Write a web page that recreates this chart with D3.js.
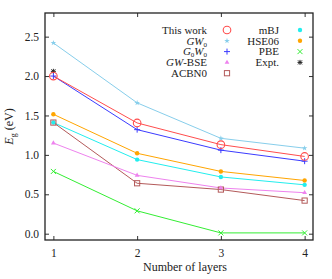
<!DOCTYPE html>
<html>
<head>
<meta charset="utf-8">
<script src="https://cdn.jsdelivr.net/npm/d3@7"></script>
<style>
  body { margin: 0; background: #fff; }
  text { font-family: "Liberation Serif", "DejaVu Serif", serif; fill: #222; }
</style>
</head>
<body>
<svg id="chart" width="332" height="279"></svg>
<script>
// number of layers on the x axis
var layers = [1, 2, 3, 4];

// band gaps (eV) for each method
var thisWork = [2.00, 1.405, 1.13, 0.98];
var gw0 = [2.42, 1.66, 1.21, 1.085];
var g0w0 = [2.00, 1.32, 1.06, 0.92];
var gwBse = [1.15, 0.74, 0.58, 0.52];
var acbn0 = [1.41, 0.64, 0.56, 0.42];
var mbj = [1.41, 0.94, 0.72, 0.62];
var hse06 = [1.515, 1.02, 0.79, 0.675];
var pbe = [0.79, 0.29, 0.01, 0.01];
var expt = [2.06];

var yTicks = [0.0, 0.5, 1.0, 1.5, 2.0, 2.5];

var series = [
  { name: 'This work', values: thisWork, color: '#ff4d4d', symbol: 'ocircle' },
  { name: 'GW0', values: gw0, color: '#87ceeb', symbol: 'star' },
  { name: 'G0W0', values: g0w0, color: '#3b3bff', symbol: 'plus' },
  { name: 'GW-BSE', values: gwBse, color: '#ee82ee', symbol: 'triangle' },
  { name: 'ACBN0', values: acbn0, color: '#b35a5a', symbol: 'osquare' },
  { name: 'mBJ', values: mbj, color: '#22eeee', symbol: 'circle' },
  { name: 'HSE06', values: hse06, color: '#ffa500', symbol: 'circle' },
  { name: 'PBE', values: pbe, color: '#33ee33', symbol: 'cross' },
  { name: 'Expt.', values: expt, color: '#222222', symbol: 'asterisk' }
];

var svg = d3.select('#chart');
var margin = { left: 45, top: 13, right: 19, bottom: 39 };
var width = +svg.attr('width') - margin.left - margin.right;
var height = +svg.attr('height') - margin.top - margin.bottom;

var x = d3.scaleLinear().domain([0.9, 4.1]).range([0, width]);
var y = d3.scaleLinear().domain([-0.08, 2.8]).range([height, 0]);

var g = svg.append('g').attr('transform', 'translate(' + margin.left + ',' + margin.top + ')');

// axes with inward ticks, mirrored on all four sides
function styleAxis(sel) {
  sel.select('.domain').remove();
  sel.selectAll('line').attr('stroke', '#333');
  sel.selectAll('text').attr('font-size', 11.5).attr('font-family', '"Liberation Serif", serif').attr('fill', '#222');
}
g.append('g').attr('transform', 'translate(0,' + height + ')')
  .call(d3.axisBottom(x).tickValues(layers).tickFormat(d3.format('d')).tickSizeInner(-4).tickPadding(9))
  .call(styleAxis);
g.append('g')
  .call(d3.axisTop(x).tickValues(layers).tickSizeInner(-4).tickFormat(''))
  .call(styleAxis);
g.append('g')
  .call(d3.axisLeft(y).tickValues(yTicks).tickFormat(d3.format('.1f')).tickSizeInner(-4).tickPadding(6))
  .call(styleAxis);
g.append('g').attr('transform', 'translate(' + width + ',0)')
  .call(d3.axisRight(y).tickValues(yTicks).tickSizeInner(-4).tickFormat(''))
  .call(styleAxis);

// symbol drawing
function drawSymbol(sel, s, cx, cy) {
  var c = s.color;
  if (s.symbol === 'ocircle') {
    sel.append('circle').attr('cx', cx).attr('cy', cy).attr('r', 3.8)
      .attr('fill', 'none').attr('stroke', c).attr('stroke-width', 1.1);
  } else if (s.symbol === 'circle') {
    sel.append('circle').attr('cx', cx).attr('cy', cy).attr('r', 2.2).attr('fill', c);
  } else if (s.symbol === 'osquare') {
    sel.append('rect').attr('x', cx - 2.6).attr('y', cy - 2.6).attr('width', 5.2).attr('height', 5.2)
      .attr('fill', 'none').attr('stroke', c).attr('stroke-width', 1);
  } else if (s.symbol === 'triangle') {
    sel.append('path').attr('d', d3.symbol(d3.symbolTriangle, 10)()).attr('transform', 'translate(' + cx + ',' + cy + ')')
      .attr('fill', c);
  } else if (s.symbol === 'plus') {
    sel.append('path').attr('d', 'M' + (cx - 3) + ',' + cy + 'h6M' + cx + ',' + (cy - 3) + 'v6')
      .attr('stroke', c).attr('stroke-width', 1);
  } else if (s.symbol === 'cross') {
    sel.append('path').attr('d', 'M' + (cx - 2.5) + ',' + (cy - 2.5) + 'l5,5M' + (cx - 2.5) + ',' + (cy + 2.5) + 'l5,-5')
      .attr('stroke', c).attr('stroke-width', 1);
  } else if (s.symbol === 'star') {
    sel.append('path').attr('d', d3.symbol(d3.symbolStar, 10)()).attr('transform', 'translate(' + cx + ',' + cy + ')')
      .attr('fill', c);
  } else if (s.symbol === 'asterisk') {
    sel.append('path').attr('d', 'M' + (cx - 2.5) + ',' + cy + 'h5M' + cx + ',' + (cy - 2.5) + 'v5M' +
        (cx - 2) + ',' + (cy - 2) + 'l4,4M' + (cx - 2) + ',' + (cy + 2) + 'l4,-4')
      .attr('stroke', c).attr('stroke-width', 1);
  }
}

var line = d3.line()
  .x(function (d, i) { return x(layers[i]); })
  .y(function (d) { return y(d); });

// lines first, drawn in reverse so "This work" sits on top
series.slice().reverse().forEach(function (s) {
  if (s.values.length > 1) {
    g.append('path').datum(s.values)
      .attr('d', line)
      .attr('fill', 'none')
      .attr('stroke', s.color)
      .attr('stroke-width', 1);
  }
});
series.slice().reverse().forEach(function (s) {
  var gs = g.append('g');
  s.values.forEach(function (v, i) { drawSymbol(gs, s, x(layers[i]), y(v)); });
});

// frame
g.append('rect').attr('width', width).attr('height', height)
  .attr('fill', 'none').attr('stroke', '#222').attr('stroke-width', 1.3);

// legend: two columns, right aligned labels
var legendCols = [
  { textX: 207, symX: 227, items: series.slice(0, 5) },
  { textX: 279, symX: 300, items: series.slice(5) }
];
var labelParts = {
  'GW0': [['GW', 'italic'], ['0', 'sub']],
  'G0W0': [['G', 'italic'], ['0', 'sub'], ['W', 'italic'], ['0', 'sub']],
  'GW-BSE': [['GW', 'italic'], ['-BSE', 'normal']]
};
legendCols.forEach(function (col) {
  col.items.forEach(function (s, i) {
    var ly = 30 + i * 10.8;
    var t = svg.append('text').attr('x', col.textX).attr('y', ly + 3.8)
      .attr('text-anchor', 'end').attr('font-size', 11);
    var parts = labelParts[s.name] || [[s.name, 'normal']];
    var shifted = false;
    parts.forEach(function (p) {
      var ts = t.append('tspan').text(p[0]);
      if (p[1] === 'italic') ts.attr('font-style', 'italic');
      if (p[1] === 'sub') { ts.attr('font-size', 7).attr('dy', 2); shifted = true; }
      else if (shifted) { ts.attr('dy', -2); shifted = false; }
    });
    drawSymbol(svg, s, col.symX, ly);
  });
});

// axis titles
var yl = svg.append('text')
  .attr('transform', 'translate(13,' + (margin.top + height / 2) + ') rotate(-90)')
  .attr('text-anchor', 'middle').attr('font-size', 12);
yl.append('tspan').attr('font-style', 'italic').text('E');
yl.append('tspan').attr('font-size', 8).attr('dy', 2.5).text('g');
yl.append('tspan').attr('dy', -2.5).text(' (eV)');

svg.append('text')
  .attr('x', 185).attr('y', 271)
  .attr('text-anchor', 'middle').attr('font-size', 12)
  .text('Number of layers');
</script>
</body>
</html>
